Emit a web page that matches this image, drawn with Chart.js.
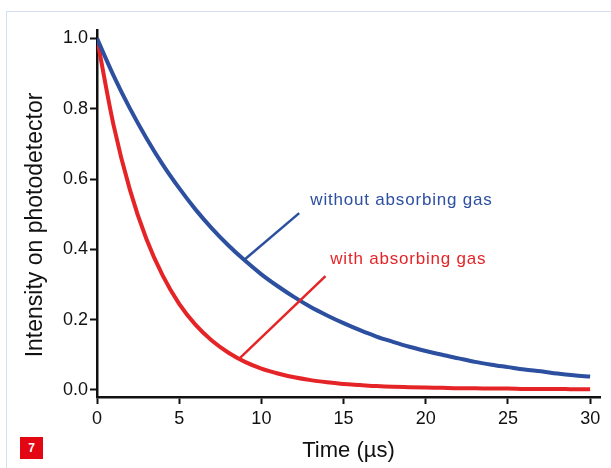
<!DOCTYPE html>
<html>
<head>
<meta charset="utf-8">
<script src="https://cdn.jsdelivr.net/npm/chart.js@4.4.1/dist/chart.umd.min.js"></script>
<style>
    html, body { margin: 0; padding: 0; background: #fff; }
    #wrap { position: relative; width: 611px; height: 468px; overflow: hidden; }
    #frame { position: absolute; left: 6px; top: 11px; right: -4px; bottom: -4px; border-top: 1.5px solid #d3dff3; border-left: 1.5px solid #d3dff3; }
    #fig { position: absolute; left: 20px; top: 437px; width: 23px; height: 22px; background: #e30613; color: #fff; font: bold 12px "Liberation Sans", Arial, sans-serif; text-align: center; line-height: 22px; }
    canvas { position: absolute; left: 0; top: 0; }
</style>
</head>
<body>
<div id="wrap">
    <div id="frame"></div>
    <canvas id="chart" width="611" height="468"></canvas>
    <div id="fig">7</div>
</div>
<script>
    // time in microseconds
    const times = [0, 1, 2, 3, 4, 5, 6, 7, 8, 9, 10, 11, 12, 13, 14, 15, 16, 17, 18, 19, 20, 21, 22, 23, 24, 25, 26, 27, 28, 29, 30]
    const withoutGas = [1.0, 0.895, 0.801, 0.717, 0.641, 0.574, 0.513, 0.459, 0.411, 0.368, 0.329, 0.295, 0.264, 0.236, 0.212, 0.19, 0.17, 0.152, 0.137, 0.123, 0.111, 0.1, 0.09, 0.08, 0.072, 0.065, 0.058, 0.053, 0.047, 0.042, 0.038]
    const withGas = [1.0, 0.755, 0.57, 0.43, 0.325, 0.245, 0.185, 0.14, 0.106, 0.08, 0.061, 0.047, 0.036, 0.028, 0.022, 0.017, 0.014, 0.011, 0.009, 0.008, 0.007, 0.006, 0.005, 0.005, 0.004, 0.004, 0.003, 0.003, 0.003, 0.002, 0.002]
    const seriesLabels = ['without absorbing gas', 'with absorbing gas']
    const xTitle = 'Time (µs)'
    const yTitle = 'Intensity on photodetector'

    // callout pointers, in data units: [time, intensity]
    const calloutFrom = [[9.0, 0.372], [8.72, 0.092]]
    const calloutTo = [[12.3, 0.503], [13.9, 0.324]]
    const calloutText = [[12.98, 0.526], [14.19, 0.358]]

    const BLUE = '#2c4f9f'
    const RED = '#e52427'
    const FONT = '"Liberation Sans", Arial, sans-serif'

    const pts = (ys) => times.map((t, i) => ({ x: t, y: ys[i] }))

    const extras = {
        id: 'extras',
        afterDatasetsDraw(chart) {
            const { ctx, scales: { x, y }, chartArea } = chart
            const colors = [BLUE, RED]
            ctx.save()
            for (let i = 0; i < seriesLabels.length; i++) {
                ctx.strokeStyle = colors[i]
                ctx.lineWidth = 2.5
                ctx.beginPath()
                ctx.moveTo(x.getPixelForValue(calloutFrom[i][0]), y.getPixelForValue(calloutFrom[i][1]))
                ctx.lineTo(x.getPixelForValue(calloutTo[i][0]), y.getPixelForValue(calloutTo[i][1]))
                ctx.stroke()
                ctx.fillStyle = colors[i]
                ctx.font = `17px ${FONT}`
                ctx.letterSpacing = '0.8px'
                ctx.textAlign = 'left'
                ctx.textBaseline = 'alphabetic'
                ctx.fillText(seriesLabels[i], x.getPixelForValue(calloutText[i][0]), y.getPixelForValue(calloutText[i][1]))
            }
            ctx.letterSpacing = '0px'
            ctx.fillStyle = '#111'
            ctx.font = `22px ${FONT}`
            ctx.textAlign = 'center'
            ctx.fillText(xTitle, (chartArea.left + chartArea.right) / 2, 457)
            ctx.font = `23px ${FONT}`
            ctx.translate(42, 225)
            ctx.rotate(-Math.PI / 2)
            ctx.fillText(yTitle, 0, 0)
            ctx.restore()
        }
    }

    const axisGrid = { drawOnChartArea: false, drawTicks: true, tickLength: 7, tickWidth: 2, color: '#111' }
    const axisBorder = { display: true, color: '#111', width: 2.5 }

    new Chart(document.getElementById('chart'), {
        type: 'line',
        data: {
            datasets: [
                { label: seriesLabels[0], data: pts(withoutGas), borderColor: BLUE, borderWidth: 4, pointRadius: 0, cubicInterpolationMode: 'monotone', fill: false },
                { label: seriesLabels[1], data: pts(withGas), borderColor: RED, borderWidth: 4, pointRadius: 0, cubicInterpolationMode: 'monotone', fill: false }
            ]
        },
        options: {
            responsive: false,
            animation: false,
            events: [],
            layout: { padding: { top: 30, right: 11, left: 0, bottom: 0 } },
            plugins: { legend: { display: false }, tooltip: { enabled: false } },
            scales: {
                x: {
                    type: 'linear', min: 0, max: 30.6,
                    grid: axisGrid, border: axisBorder,
                    afterFit: (s) => { s.height = 71 },
                    ticks: { stepSize: 5, includeBounds: false, maxRotation: 0, autoSkip: false, padding: 4, color: '#111', font: { family: FONT, size: 18 } }
                },
                y: {
                    type: 'linear', min: -0.02, max: 1.024,
                    grid: axisGrid, border: axisBorder,
                    afterFit: (s) => { s.width = 97 },
                    ticks: { stepSize: 0.2, includeBounds: false, autoSkip: false, padding: 2, color: '#111', font: { family: FONT, size: 18 }, callback: (v) => v.toFixed(1) }
                }
            }
        },
        plugins: [extras]
    })
</script>
</body>
</html>
